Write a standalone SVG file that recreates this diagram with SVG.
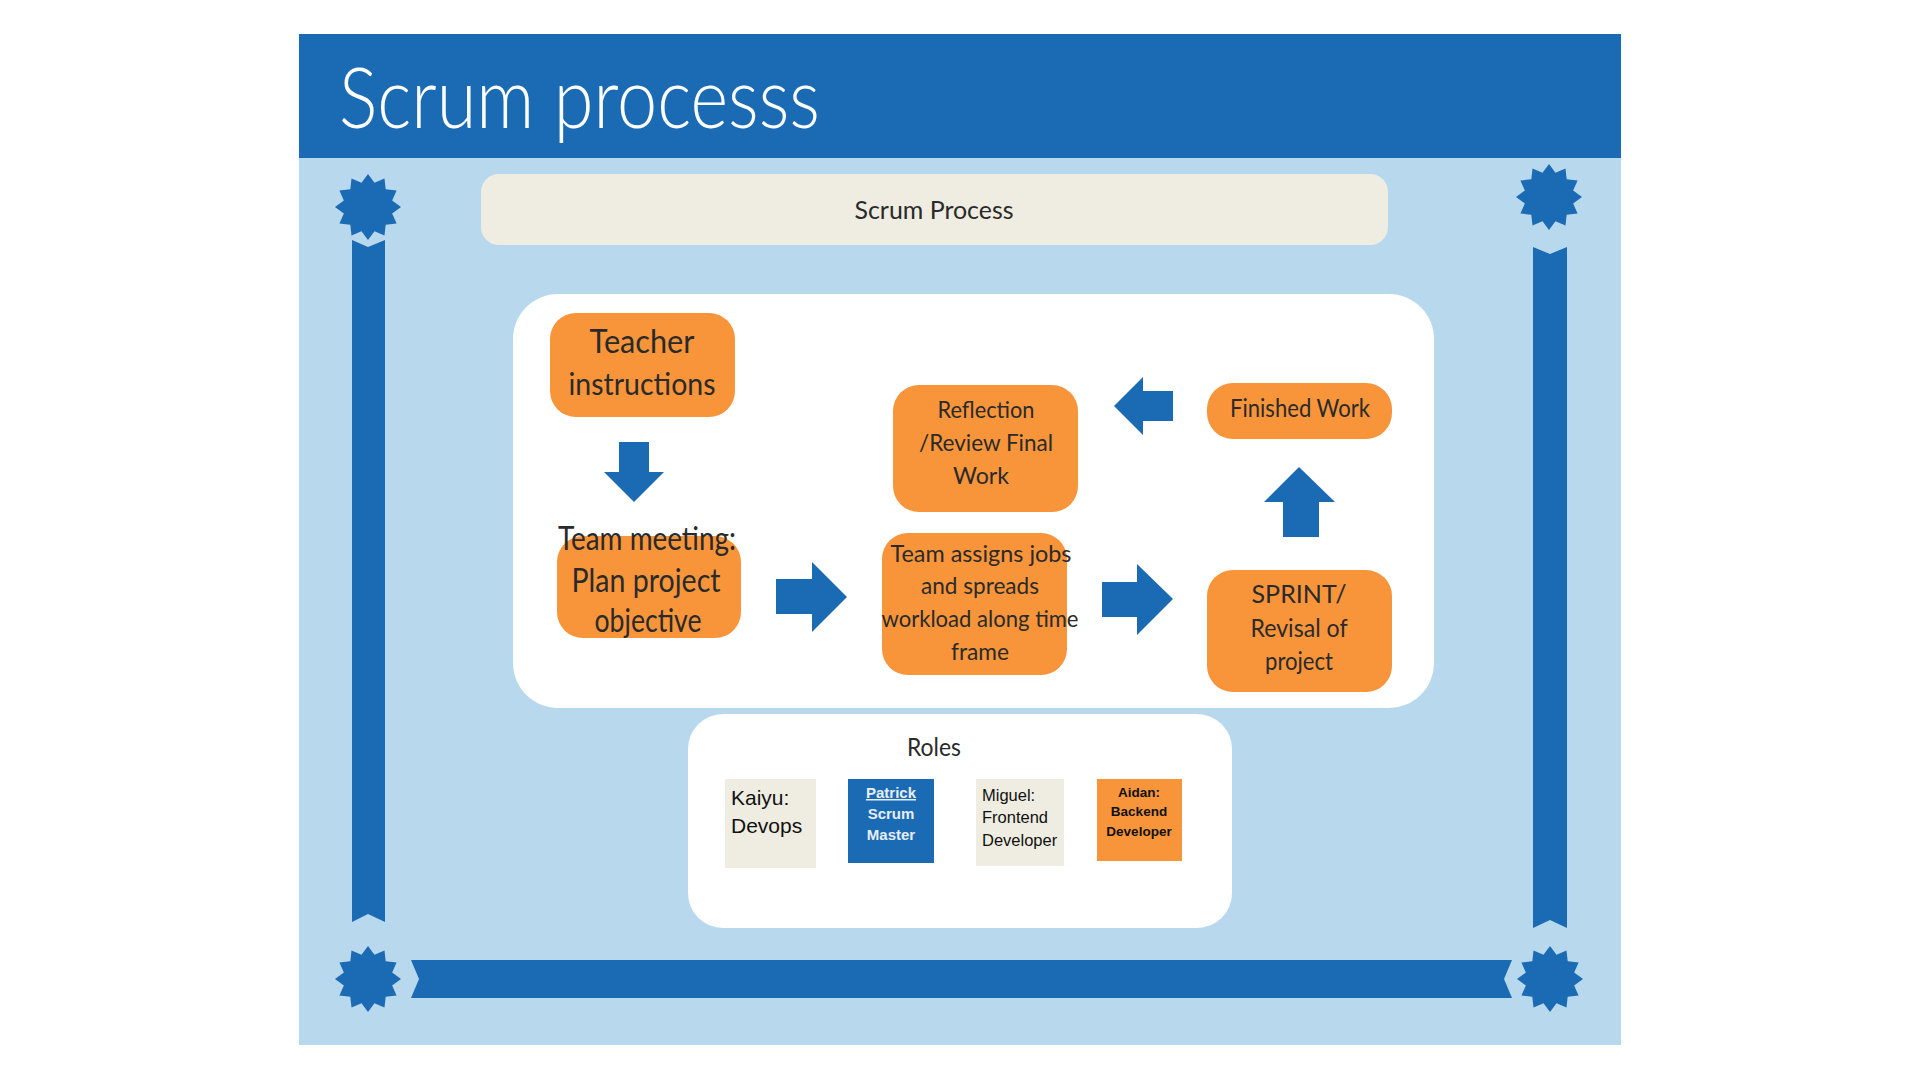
<svg xmlns="http://www.w3.org/2000/svg" width="1920" height="1080" viewBox="0 0 1920 1080">
<style>
.blue{fill:#1B6AB4}
.orange{fill:#F8953A}
.hand{font-family:Lato,"Noto Sans",sans-serif;font-weight:400;fill:#2a2a2a;text-anchor:middle}
.role{font-family:"Liberation Sans",Arial,sans-serif}
</style>
<defs>
<polygon id="star" points="0,-33 6.47,-24.15 16.5,-28.58 17.68,-17.68 28.58,-16.5 24.15,-6.47 33,0 24.15,6.47 28.58,16.5 17.68,17.68 16.5,28.58 6.47,24.15 0,33 -6.47,24.15 -16.5,28.58 -17.68,17.68 -28.58,16.5 -24.15,6.47 -33,0 -24.15,-6.47 -28.58,-16.5 -17.68,-17.68 -16.5,-28.58 -6.47,-24.15"/>
</defs>
<rect width="1920" height="1080" fill="#ffffff"/>
<g id="frame">
<rect x="299" y="34" width="1322" height="1011" fill="#B8D8EE"/>
<rect x="299" y="34" width="1322" height="124" class="blue"/>
<text x="339" y="128" font-family="Lato,'Noto Sans',sans-serif" font-weight="300" font-size="85" fill="#ffffff" textLength="481" lengthAdjust="spacingAndGlyphs">Scrum processs</text>
<use href="#star" x="368" y="207" class="blue"/>
<use href="#star" x="1549" y="197" class="blue"/>
<use href="#star" x="368" y="979" class="blue"/>
<use href="#star" x="1550" y="979" class="blue"/>
<polygon class="blue" points="352,240 368,247 385,240 385,922 368,914 352,922"/>
<polygon class="blue" points="1533,247 1550,254 1567,247 1567,928 1550,920 1533,928"/>
<polygon class="blue" points="411,960 1512,960 1504,979 1512,998 411,998 419,979"/>
</g>
<g id="header-box">
<rect x="481" y="174" width="907" height="71" rx="18" fill="#EFEDE1"/>
<text class="hand" x="934" y="219" font-size="25" textLength="159" lengthAdjust="spacingAndGlyphs">Scrum Process</text>
</g>
<g id="process-panel">
<rect x="513" y="294" width="921" height="414" rx="45" fill="#ffffff"/>
</g>
<g id="connectors" class="blue">
<polygon points="619,442 649,442 649,472 664,472 634,502 604,472 619,472"/>
<polygon points="776,579 812,579 812,562 847,597 812,632 812,614 776,614"/>
<polygon points="1102,582 1137,582 1137,564 1173,599 1137,635 1137,617 1102,617"/>
<polygon points="1299,467 1335,502 1319,502 1319,537 1283,537 1283,502 1264,502"/>
<polygon points="1173,391 1143,391 1143,377 1114,406 1143,435 1143,421 1173,421"/>
</g>
<g id="teacher-instructions">
<rect class="orange" x="550" y="313" width="185" height="104" rx="26"/>
<text class="hand" x="642" y="353" font-size="33" textLength="105" lengthAdjust="spacingAndGlyphs">Teacher</text>
<text class="hand" x="642" y="395" font-size="30" textLength="147" lengthAdjust="spacingAndGlyphs">instructions</text>
</g>
<g id="team-meeting">
<rect class="orange" x="557" y="536" width="184" height="102" rx="26"/>
<text class="hand" x="647" y="550" font-size="33" textLength="178" lengthAdjust="spacingAndGlyphs">Team meeting:</text>
<text class="hand" x="646" y="592" font-size="33" textLength="149" lengthAdjust="spacingAndGlyphs">Plan project</text>
<text class="hand" x="648" y="632" font-size="33" textLength="107" lengthAdjust="spacingAndGlyphs">objective</text>
</g>
<g id="team-assigns">
<rect class="orange" x="882" y="533" width="185" height="142" rx="26"/>
<text class="hand" x="981" y="562" font-size="24" textLength="181" lengthAdjust="spacingAndGlyphs">Team assigns jobs</text>
<text class="hand" x="980" y="594" font-size="24" textLength="118" lengthAdjust="spacingAndGlyphs">and spreads</text>
<text class="hand" x="980" y="627" font-size="24" textLength="197" lengthAdjust="spacingAndGlyphs">workload along time</text>
<text class="hand" x="980" y="660" font-size="24" textLength="58" lengthAdjust="spacingAndGlyphs">frame</text>
</g>
<g id="sprint">
<rect class="orange" x="1207" y="570" width="185" height="122" rx="26"/>
<text class="hand" x="1299" y="603" font-size="25" textLength="95" lengthAdjust="spacingAndGlyphs">SPRINT/</text>
<text class="hand" x="1299" y="637" font-size="25" textLength="97" lengthAdjust="spacingAndGlyphs">Revisal of</text>
<text class="hand" x="1299" y="670" font-size="25" textLength="68" lengthAdjust="spacingAndGlyphs">project</text>
</g>
<g id="finished-work">
<rect class="orange" x="1207" y="383" width="185" height="56" rx="26"/>
<text class="hand" x="1300" y="417" font-size="25" textLength="140" lengthAdjust="spacingAndGlyphs">Finished Work</text>
</g>
<g id="reflection">
<rect class="orange" x="893" y="385" width="185" height="127" rx="26"/>
<text class="hand" x="986" y="418" font-size="24" textLength="97" lengthAdjust="spacingAndGlyphs">Reflection</text>
<text class="hand" x="986" y="451" font-size="24" textLength="134" lengthAdjust="spacingAndGlyphs">/Review Final</text>
<text class="hand" x="981" y="484" font-size="24" textLength="56" lengthAdjust="spacingAndGlyphs">Work</text>
</g>
<g id="roles">
<rect x="688" y="714" width="544" height="214" rx="35" fill="#ffffff"/>
<text class="hand" x="934" y="756" font-size="25" textLength="54" lengthAdjust="spacingAndGlyphs">Roles</text>
</g>
<g id="role-kaiyu">
<rect x="725" y="779" width="91" height="89" fill="#EFEDE1"/>
<text class="role" x="731" y="805" font-size="21" fill="#111">Kaiyu:</text>
<text class="role" x="731" y="833" font-size="21" fill="#111">Devops</text>
</g>
<g id="role-patrick">
<rect x="848" y="779" width="86" height="84" class="blue"/>
<text class="role" x="891" y="798" font-size="15" font-weight="bold" fill="#E6EDF5" text-anchor="middle" text-decoration="underline">Patrick</text>
<text class="role" x="891" y="819" font-size="15" font-weight="bold" fill="#E6EDF5" text-anchor="middle">Scrum</text>
<text class="role" x="891" y="840" font-size="15" font-weight="bold" fill="#E6EDF5" text-anchor="middle">Master</text>
</g>
<g id="role-miguel">
<rect x="976" y="779" width="88" height="87" fill="#EFEDE1"/>
<text class="role" x="982" y="801" font-size="16.5" fill="#111">Miguel:</text>
<text class="role" x="982" y="823" font-size="16.5" fill="#111">Frontend</text>
<text class="role" x="982" y="846" font-size="16.5" fill="#111">Developer</text>
</g>
<g id="role-aidan">
<rect x="1097" y="779" width="85" height="82" class="orange"/>
<text class="role" x="1139" y="797" font-size="13.5" font-weight="bold" fill="#111" text-anchor="middle">Aidan:</text>
<text class="role" x="1139" y="816" font-size="13.5" font-weight="bold" fill="#111" text-anchor="middle">Backend</text>
<text class="role" x="1139" y="836" font-size="13.5" font-weight="bold" fill="#111" text-anchor="middle">Developer</text>
</g>
</svg>
